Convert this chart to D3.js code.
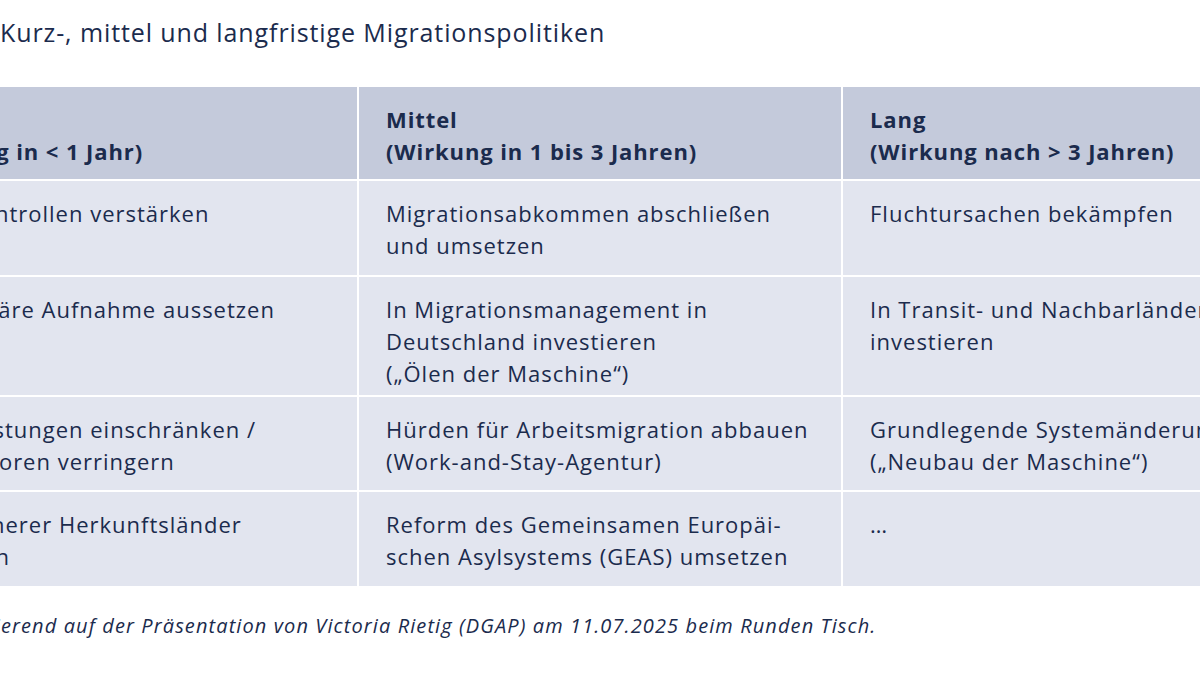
<!DOCTYPE html><html><head><meta charset="utf-8"><script src="https://d3js.org/d3.v7.min.js"></script>
<style>body{margin:0;background:#fff}svg{display:block}</style></head><body><svg width="1200" height="675"></svg>
<script>
const title="Kurz-, mittel und langfristige Migrationspolitiken";
const note="basierend auf der Präsentation von Victoria Rietig (DGAP) am 11.07.2025 beim Runden Tisch.";
const headers=[["Kurz","(Wirkung in < 1 Jahr)"],["Mittel","(Wirkung in 1 bis 3 Jahren)"],["Lang","(Wirkung nach > 3 Jahren)"]];
const col1=[["Grenzkontrollen verstärken"],["Humanitäre Aufnahme aussetzen"],["Sozialleistungen einschränken /","Pull-Faktoren verringern"],["Liste sicherer Herkunftsländer","erweitern"]];
const col2=[["Migrationsabkommen abschließen","und umsetzen"],["In Migrationsmanagement in","Deutschland investieren","(„Ölen der Maschine“)"],["Hürden für Arbeitsmigration abbauen","(Work-and-Stay-Agentur)"],["Reform des Gemeinsamen Europäi-","schen Asylsystems (GEAS) umsetzen"]];
const col3=[["Fluchtursachen bekämpfen"],["In Transit- und Nachbarländer","investieren"],["Grundlegende Systemänderung","(„Neubau der Maschine“)"],["…"]];
const rowEdges=[86,180,276,396,491,587];
const colEdges=[-126,358,842,1326];
const svg=d3.select("svg");const F="Open Sans, sans-serif";const C="#1b2b4d";
svg.append("text").attr("x",0).attr("y",42).attr("font-family",F).attr("font-size",25).attr("letter-spacing",0.9).attr("fill",C).text(title);
svg.append("text").attr("x",-40).attr("y",633).attr("font-family",F).attr("font-size",20).attr("letter-spacing",1.1).attr("font-style","italic").attr("fill",C).text(note);
const cells=[];
[headers,...col1.map((_,i)=>[col1[i],col2[i],col3[i]])].forEach((r,ri)=>r.forEach((lines,ci)=>cells.push({ri,ci,lines})));
const g=svg.selectAll("g.cell").data(cells).join("g");
g.append("rect").attr("x",d=>colEdges[d.ci]+1).attr("y",d=>rowEdges[d.ri]+1).attr("width",d=>colEdges[d.ci+1]-colEdges[d.ci]-2).attr("height",d=>rowEdges[d.ri+1]-rowEdges[d.ri]-2).attr("fill",d=>d.ri==0?"#c4cadb":"#e2e5ef");
g.each(function(d){const t=d3.select(this).append("text").attr("font-family",F).attr("font-size",22).attr("fill",C).attr("font-weight",d.ri==0?700:400).attr("letter-spacing",d.ri==0?0.9:1.0);
 const y0=rowEdges[d.ri]+42;
 d.lines.forEach((l,i)=>t.append("tspan").attr("x",colEdges[d.ci]+28).attr("y",y0+i*32).text(l));});
</script></body></html>
